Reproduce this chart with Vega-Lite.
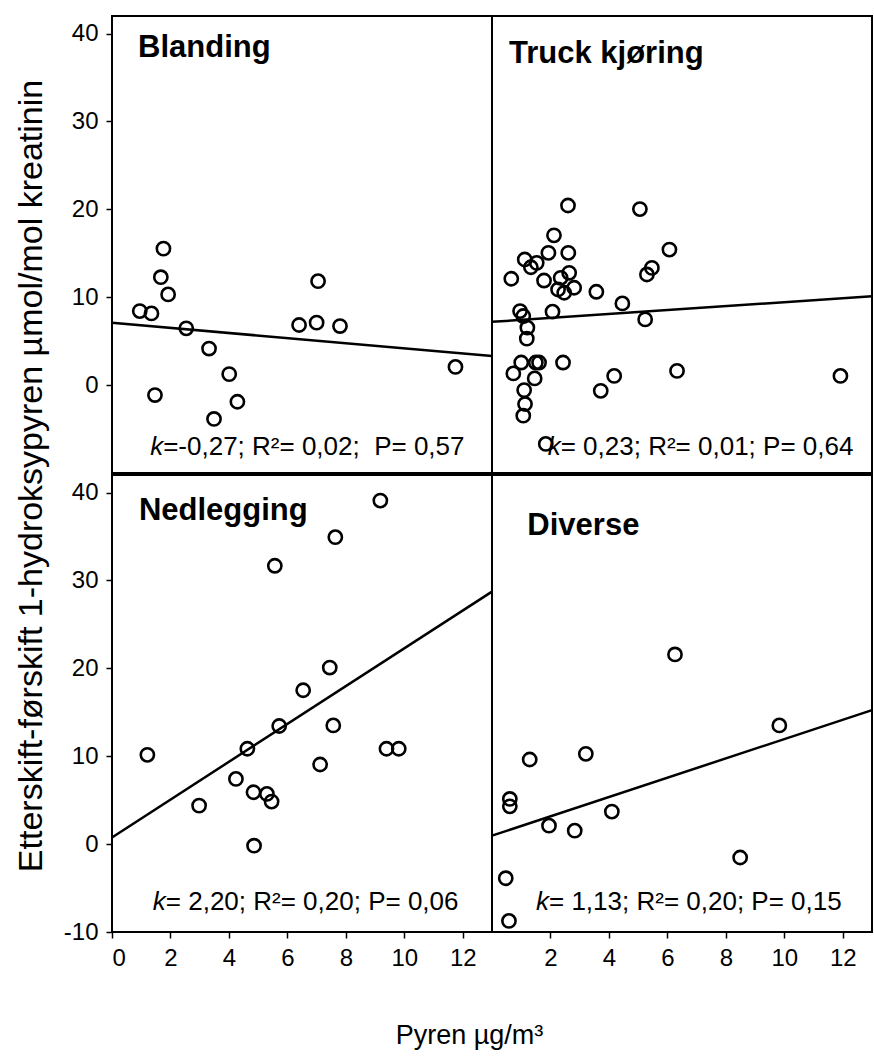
{
  "$schema": "https://vega.github.io/schema/vega-lite/v6.json",
  "background": "white",
  "padding": {"left": 14, "top": 15, "right": 1, "bottom": 5},
  "spacing": 0,
  "title": {"text": "Etterskift-førskift 1-hydroksypyren µmol/mol kreatinin", "orient": "left", "anchor": "middle", "font": "Liberation Sans", "fontSize": 34, "fontWeight": "normal", "color": "black", "offset": 12, "dx": 56},
  "datasets": {
    "pts": [
      {"p":"B","x":0.95,"y":8.42},{"p":"B","x":1.35,"y":8.16},{"p":"B","x":1.76,"y":15.53},{"p":"B","x":1.67,"y":12.28},{"p":"B","x":1.92,"y":10.32},{"p":"B","x":2.54,"y":6.46},{"p":"B","x":3.32,"y":4.16},{"p":"B","x":4.01,"y":1.25},{"p":"B","x":1.47,"y":-1.13},{"p":"B","x":4.29,"y":-1.89},{"p":"B","x":3.49,"y":-3.85},{"p":"B","x":6.40,"y":6.84},{"p":"B","x":7.00,"y":7.11},{"p":"B","x":7.80,"y":6.72},{"p":"B","x":7.05,"y":11.83},{"p":"B","x":11.75,"y":2.07},
      {"p":"T","x":2.60,"y":20.44},{"p":"T","x":5.06,"y":20.03},{"p":"T","x":2.12,"y":17.04},{"p":"T","x":1.93,"y":15.05},{"p":"T","x":2.61,"y":15.05},{"p":"T","x":1.12,"y":14.29},{"p":"T","x":1.33,"y":13.41},{"p":"T","x":1.53,"y":13.91},{"p":"T","x":6.07,"y":15.42},{"p":"T","x":5.47,"y":13.34},{"p":"T","x":5.30,"y":12.59},{"p":"T","x":0.66,"y":12.10},{"p":"T","x":1.78,"y":11.90},{"p":"T","x":2.64,"y":12.78},{"p":"T","x":2.35,"y":12.21},{"p":"T","x":2.26,"y":10.88},{"p":"T","x":2.47,"y":10.51},{"p":"T","x":2.81,"y":11.08},{"p":"T","x":3.57,"y":10.62},{"p":"T","x":4.46,"y":9.30},{"p":"T","x":0.96,"y":8.42},{"p":"T","x":1.07,"y":7.86},{"p":"T","x":2.07,"y":8.36},{"p":"T","x":5.24,"y":7.48},{"p":"T","x":1.21,"y":6.54},{"p":"T","x":1.19,"y":5.29},{"p":"T","x":1.00,"y":2.57},{"p":"T","x":1.61,"y":2.57},{"p":"T","x":1.50,"y":2.57},{"p":"T","x":2.43,"y":2.57},{"p":"T","x":0.73,"y":1.33},{"p":"T","x":1.46,"y":0.76},{"p":"T","x":4.18,"y":1.05},{"p":"T","x":6.33,"y":1.62},{"p":"T","x":11.92,"y":1.05},{"p":"T","x":3.72,"y":-0.65},{"p":"T","x":1.10,"y":-0.57},{"p":"T","x":1.13,"y":-2.15},{"p":"T","x":1.07,"y":-3.48},{"p":"T","x":1.84,"y":-6.69},
      {"p":"N","x":9.18,"y":39.09},{"p":"N","x":7.64,"y":34.93},{"p":"N","x":5.57,"y":31.67},{"p":"N","x":7.45,"y":20.09},{"p":"N","x":6.54,"y":17.51},{"p":"N","x":1.21,"y":10.16},{"p":"N","x":5.72,"y":13.44},{"p":"N","x":7.57,"y":13.51},{"p":"N","x":4.63,"y":10.85},{"p":"N","x":9.39,"y":10.85},{"p":"N","x":9.81,"y":10.85},{"p":"N","x":7.12,"y":9.06},{"p":"N","x":4.24,"y":7.42},{"p":"N","x":4.84,"y":5.90},{"p":"N","x":5.30,"y":5.71},{"p":"N","x":5.46,"y":4.84},{"p":"N","x":2.98,"y":4.38},{"p":"N","x":4.86,"y":-0.18},
      {"p":"D","x":6.26,"y":21.58},{"p":"D","x":9.83,"y":13.51},{"p":"D","x":1.29,"y":9.63},{"p":"D","x":3.21,"y":10.27},{"p":"D","x":0.61,"y":5.14},{"p":"D","x":0.61,"y":4.30},{"p":"D","x":4.10,"y":3.70},{"p":"D","x":1.95,"y":2.10},{"p":"D","x":2.83,"y":1.53},{"p":"D","x":8.49,"y":-1.52},{"p":"D","x":0.47,"y":-3.88},{"p":"D","x":0.58,"y":-8.74}
    ],
    "lines": [
      {"p":"B","x":0,"y":7.1},{"p":"B","x":13,"y":3.3},
      {"p":"T","x":0,"y":7.2},{"p":"T","x":13,"y":10.1},
      {"p":"N","x":0,"y":0.76},{"p":"N","x":13,"y":28.73},
      {"p":"D","x":0,"y":0.96},{"p":"D","x":13,"y":15.25}
    ],
    "labels": [
      {"p":"B","k":"title","x":0.89,"y":37.3,"t":"Blanding"},
      {"p":"B","k":"kk","x":1.75,"y":-7.9,"t":"k"},
      {"p":"B","k":"stat","x":1.75,"y":-7.9,"t":"=-0,27; R²= 0,02;\u00a0 P= 0,57"},
      {"p":"T","k":"title","x":0.58,"y":36.6,"t":"Truck kjøring"},
      {"p":"T","k":"kk","x":2.35,"y":-7.9,"t":"k"},
      {"p":"T","k":"stat","x":2.35,"y":-7.9,"t":"= 0,23; R²= 0,01; P= 0,64"},
      {"p":"N","k":"title","x":0.92,"y":36.9,"t":"Nedlegging"},
      {"p":"N","k":"kk","x":1.84,"y":-7.5,"t":"k"},
      {"p":"N","k":"stat","x":1.84,"y":-7.5,"t":"= 2,20; R²= 0,20; P= 0,06"},
      {"p":"D","k":"title","x":1.21,"y":35.2,"t":"Diverse"},
      {"p":"D","k":"kk","x":1.95,"y":-7.5,"t":"k"},
      {"p":"D","k":"stat","x":1.95,"y":-7.5,"t":"= 1,13; R²= 0,20; P= 0,15"}
    ]
  },
  "config": {
    "view": {"stroke": "black", "strokeWidth": 2},
    "axis": {"domain": false, "grid": false, "ticks": true, "tickColor": "black", "tickSize": 6, "tickWidth": 1.5, "labelFont": "Liberation Sans", "labelFontSize": 24, "labelColor": "black", "labelPadding": 8, "labelExpr": "datum.value + ''"}
  },
  "vconcat": [
    {
      "spacing": 0,
      "bounds": "flush",
      "hconcat": [
        {
          "width": 380, "height": 457,
          "encoding": {
            "x": {"field": "x", "type": "quantitative", "scale": {"domain": [0, 13], "nice": false, "zero": false}, "axis": null},
            "y": {"field": "y", "type": "quantitative", "scale": {"domain": [-10, 42], "nice": false, "zero": false}, "axis": {"values": [0, 10, 20, 30, 40], "title": null, "minExtent": 50, "maxExtent": 50}}
          },
          "layer": [
            {"data": {"name": "pts"}, "transform": [{"filter": "datum.p==='B'"}], "mark": {"type": "point", "shape": "circle", "filled": false, "stroke": "black", "strokeWidth": 2.6, "size": 175, "opacity": 1}},
            {"data": {"name": "lines"}, "transform": [{"filter": "datum.p==='B'"}], "mark": {"type": "line", "color": "black", "strokeWidth": 2.5}},
            {"data": {"name": "labels"}, "transform": [{"filter": "datum.p==='B' && datum.k==='title'"}], "mark": {"type": "text", "align": "left", "baseline": "alphabetic", "font": "Liberation Sans", "fontSize": 31, "fontWeight": "bold", "color": "black"}, "encoding": {"text": {"field": "t"}}},
            {"data": {"name": "labels"}, "transform": [{"filter": "datum.p==='B' && datum.k==='kk'"}], "mark": {"type": "text", "align": "right", "baseline": "alphabetic", "font": "Liberation Sans", "fontSize": 26, "fontStyle": "italic", "color": "black"}, "encoding": {"text": {"field": "t"}}},
            {"data": {"name": "labels"}, "transform": [{"filter": "datum.p==='B' && datum.k==='stat'"}], "mark": {"type": "text", "align": "left", "baseline": "alphabetic", "font": "Liberation Sans", "fontSize": 26, "color": "black"}, "encoding": {"text": {"field": "t"}}}
          ]
        },
        {
          "width": 380, "height": 457,
          "encoding": {
            "x": {"field": "x", "type": "quantitative", "scale": {"domain": [0, 13], "nice": false, "zero": false}, "axis": null},
            "y": {"field": "y", "type": "quantitative", "scale": {"domain": [-10, 42], "nice": false, "zero": false}, "axis": null}
          },
          "layer": [
            {"data": {"name": "pts"}, "transform": [{"filter": "datum.p==='T'"}], "mark": {"type": "point", "shape": "circle", "filled": false, "stroke": "black", "strokeWidth": 2.6, "size": 175, "opacity": 1}},
            {"data": {"name": "lines"}, "transform": [{"filter": "datum.p==='T'"}], "mark": {"type": "line", "color": "black", "strokeWidth": 2.5}},
            {"data": {"name": "labels"}, "transform": [{"filter": "datum.p==='T' && datum.k==='title'"}], "mark": {"type": "text", "align": "left", "baseline": "alphabetic", "font": "Liberation Sans", "fontSize": 31, "fontWeight": "bold", "color": "black"}, "encoding": {"text": {"field": "t"}}},
            {"data": {"name": "labels"}, "transform": [{"filter": "datum.p==='T' && datum.k==='kk'"}], "mark": {"type": "text", "align": "right", "baseline": "alphabetic", "font": "Liberation Sans", "fontSize": 26, "fontStyle": "italic", "color": "black"}, "encoding": {"text": {"field": "t"}}},
            {"data": {"name": "labels"}, "transform": [{"filter": "datum.p==='T' && datum.k==='stat'"}], "mark": {"type": "text", "align": "left", "baseline": "alphabetic", "font": "Liberation Sans", "fontSize": 26, "color": "black"}, "encoding": {"text": {"field": "t"}}}
          ]
        }
      ]
    },
    {
      "spacing": 0,
      "bounds": "flush",
      "title": {"text": "Pyren µg/m³", "orient": "bottom", "anchor": "middle", "font": "Liberation Sans", "fontSize": 27, "fontWeight": "normal", "color": "black", "offset": 52},
      "hconcat": [
        {
          "width": 380, "height": 457,
          "encoding": {
            "x": {"field": "x", "type": "quantitative", "scale": {"domain": [0, 13], "nice": false, "zero": false}, "axis": {"values": [0, 2, 4, 6, 8, 10, 12], "title": null, "minExtent": 35, "maxExtent": 35}},
            "y": {"field": "y", "type": "quantitative", "scale": {"domain": [-10, 42], "nice": false, "zero": false}, "axis": {"values": [-10, 0, 10, 20, 30, 40], "title": null, "minExtent": 50, "maxExtent": 50}}
          },
          "layer": [
            {"data": {"name": "pts"}, "transform": [{"filter": "datum.p==='N'"}], "mark": {"type": "point", "shape": "circle", "filled": false, "stroke": "black", "strokeWidth": 2.6, "size": 175, "opacity": 1}},
            {"data": {"name": "lines"}, "transform": [{"filter": "datum.p==='N'"}], "mark": {"type": "line", "color": "black", "strokeWidth": 2.5}},
            {"data": {"name": "labels"}, "transform": [{"filter": "datum.p==='N' && datum.k==='title'"}], "mark": {"type": "text", "align": "left", "baseline": "alphabetic", "font": "Liberation Sans", "fontSize": 31, "fontWeight": "bold", "color": "black"}, "encoding": {"text": {"field": "t"}}},
            {"data": {"name": "labels"}, "transform": [{"filter": "datum.p==='N' && datum.k==='kk'"}], "mark": {"type": "text", "align": "right", "baseline": "alphabetic", "font": "Liberation Sans", "fontSize": 26, "fontStyle": "italic", "color": "black"}, "encoding": {"text": {"field": "t"}}},
            {"data": {"name": "labels"}, "transform": [{"filter": "datum.p==='N' && datum.k==='stat'"}], "mark": {"type": "text", "align": "left", "baseline": "alphabetic", "font": "Liberation Sans", "fontSize": 26, "color": "black"}, "encoding": {"text": {"field": "t"}}}
          ]
        },
        {
          "width": 380, "height": 457,
          "encoding": {
            "x": {"field": "x", "type": "quantitative", "scale": {"domain": [0, 13], "nice": false, "zero": false}, "axis": {"values": [2, 4, 6, 8, 10, 12], "title": null, "minExtent": 35, "maxExtent": 35}},
            "y": {"field": "y", "type": "quantitative", "scale": {"domain": [-10, 42], "nice": false, "zero": false}, "axis": null}
          },
          "layer": [
            {"data": {"name": "pts"}, "transform": [{"filter": "datum.p==='D'"}], "mark": {"type": "point", "shape": "circle", "filled": false, "stroke": "black", "strokeWidth": 2.6, "size": 175, "opacity": 1}},
            {"data": {"name": "lines"}, "transform": [{"filter": "datum.p==='D'"}], "mark": {"type": "line", "color": "black", "strokeWidth": 2.5}},
            {"data": {"name": "labels"}, "transform": [{"filter": "datum.p==='D' && datum.k==='title'"}], "mark": {"type": "text", "align": "left", "baseline": "alphabetic", "font": "Liberation Sans", "fontSize": 31, "fontWeight": "bold", "color": "black"}, "encoding": {"text": {"field": "t"}}},
            {"data": {"name": "labels"}, "transform": [{"filter": "datum.p==='D' && datum.k==='kk'"}], "mark": {"type": "text", "align": "right", "baseline": "alphabetic", "font": "Liberation Sans", "fontSize": 26, "fontStyle": "italic", "color": "black"}, "encoding": {"text": {"field": "t"}}},
            {"data": {"name": "labels"}, "transform": [{"filter": "datum.p==='D' && datum.k==='stat'"}], "mark": {"type": "text", "align": "left", "baseline": "alphabetic", "font": "Liberation Sans", "fontSize": 26, "color": "black"}, "encoding": {"text": {"field": "t"}}}
          ]
        }
      ]
    }
  ]
}
